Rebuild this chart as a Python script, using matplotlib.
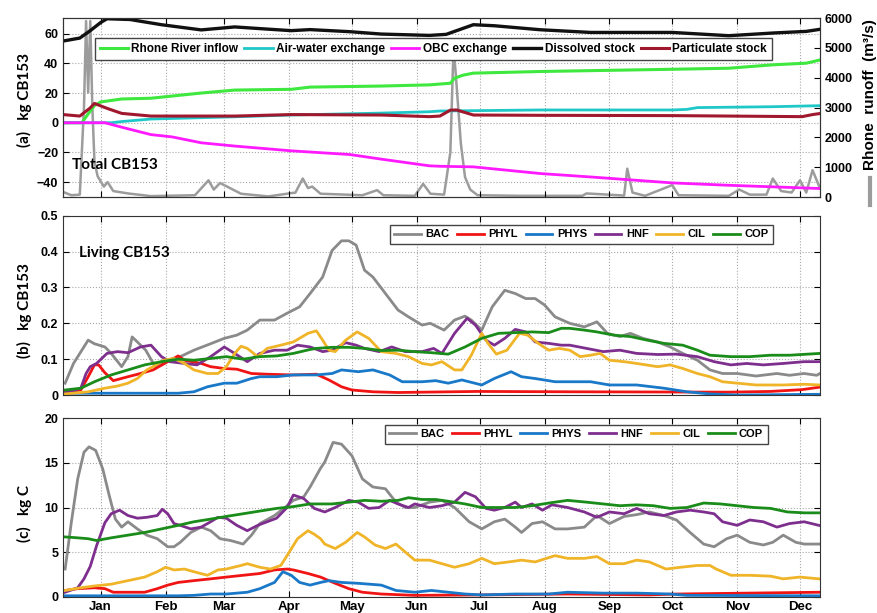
import matplotlib
matplotlib.use('Agg')
from matplotlib import pyplot as plt
from matplotlib.lines import Line2D

params = {
    'font': {'family': 'Liberation Sans', 'size': 9, 'weight': 'bold'},
    'axes': {'linewidth': 0.8, 'edgecolor': '#333333'},
    'xtick': {'direction': 'in', 'major.size': 4, 'top': True},
    'ytick': {'direction': 'in', 'major.size': 4, 'right': True},
    'grid': {'linestyle': ':', 'color': '#a8a8a8', 'linewidth': 0.8},
    'legend': {'fancybox': False, 'edgecolor': '#444444', 'framealpha': 1.0},
    'lines': {'linewidth': 1.8, 'solid_joinstyle': 'round'},
}
for group, options in params.items():
    plt.rc(group, **options)

months = ['Jan', 'Feb', 'Mar', 'Apr', 'May', 'Jun',
          'Jul', 'Aug', 'Sep', 'Oct', 'Nov', 'Dec']
month_day = [0, 31, 59, 90, 120, 151, 181, 212, 243, 273, 304, 334]

# ---- (a) total CB153 budget, kg (days counted from 1 Jan)
rhone_day = [-18, -9, -6, -3, 0, 10, 24, 48, 64, 91, 100, 134, 157, 167, 169,
             173, 178, 210, 273, 300, 321, 337, 344]
rhone = [0, 0, 6, 11.5, 14, 16, 16.5, 20, 22, 22.5, 24, 24.7, 25.5, 26.6, 30,
         32, 33.4, 34.5, 36, 36.7, 39, 40.1, 42.4]

airwater_day = [-18, 5, 10, 24, 64, 91, 134, 157, 162, 210, 273, 280, 285,
                321, 344]
airwater = [0, 0, 0.8, 2.5, 4, 5.2, 6.5, 7.4, 7.9, 8.6, 8.6, 9.0, 10.2,
            10.8, 11.5]

obc_day = [-18, 2, 10, 24, 34, 48, 64, 91, 119, 134, 157, 162, 178, 210, 234,
           273, 300, 344]
obc = [0, 0, -3, -8, -9.5, -13.5, -15.7, -18.9, -21.4, -24.5, -29, -29.3,
       -29.7, -34.2, -36.5, -40.5, -42.1, -44.3]

dissolved_day = [-18, -10, -5, 0, 3, 14, 29, 48, 64, 80, 91, 100, 119, 134,
                 157, 165, 170, 178, 188, 210, 234, 273, 300, 321, 337, 344]
dissolved = [55, 57, 62, 67.5, 70, 69.5, 66, 62.5, 64.5, 63, 62, 62.7, 61.3,
             59.7, 58.8, 59.5, 62, 66, 65.3, 62.6, 60.8, 60.8, 58.6, 60.4,
             61.5, 63]

particulate_day = [-18, -10, -5, -3, 3, 10, 24, 64, 91, 134, 157, 162, 167,
                   170, 178, 210, 273, 300, 335, 340, 344]
particulate = [5.5, 4.5, 10, 13, 9.7, 6.3, 4.5, 4.5, 5.5, 5.2, 4.1, 4.5, 8.5,
               8.6, 5.2, 5, 4.8, 4.5, 4.1, 5.5, 6.3]

# Rhone runoff, m3/s (right axis)
runoff_day = [-18, -14, -10, -8, -7, -6, -5, -4, -3, -1.5, 1.5, 3.3, 6, 13,
              24, 45, 51.5, 54, 57, 67, 80, 93, 96.5, 99, 101, 105, 125, 132,
              135, 150, 154, 157.5, 164, 167, 168.5, 169.5, 172, 174, 176.5,
              180, 200, 230, 232, 250, 251.5, 254, 260, 273, 276, 300, 305,
              310, 318, 321, 325, 330, 334, 337, 340, 343.5]
runoff = [170, 60, 80, 3000, 5900, 3500, 5900, 3000, 1200, 700, 350, 500, 200,
          120, 30, 60, 560, 250, 470, 110, 20, 150, 620, 300, 350, 110, 60,
          230, 60, 40, 440, 110, 80, 1500, 5000, 4200, 1800, 670, 250, 60,
          40, 40, 120, 50, 950, 150, 40, 400, 60, 40, 250, 80, 80, 620, 200,
          150, 560, 150, 900, 300]

# ---- (b) living CB153, kg
bac_b_day = [-17, -13, -6, -3, 2, 5, 10, 13, 15, 17.5, 21.5, 26, 32, 38, 44.5,
             52.5, 59, 65, 70, 76, 83, 89, 95, 100, 106, 110.5, 115, 118.5,
             122, 126, 130, 136, 142, 147, 153.5, 157.4, 164, 169, 174, 177,
             182, 187, 193, 198, 203, 207.5, 212, 217, 224, 231, 237, 242,
             248, 253, 259, 266, 272, 278, 285, 291, 297, 304, 313, 323, 329,
             336, 342, 343.5]
bac_b = [0.033, 0.088, 0.153, 0.143, 0.134, 0.116, 0.079, 0.107, 0.162, 0.148,
         0.125, 0.079, 0.097, 0.107, 0.125, 0.143, 0.158, 0.167, 0.181, 0.209,
         0.209, 0.228, 0.246, 0.283, 0.329, 0.403, 0.430, 0.430, 0.418, 0.348,
         0.329, 0.283, 0.237, 0.218, 0.195, 0.200, 0.181, 0.209, 0.220, 0.209,
         0.181, 0.246, 0.292, 0.283, 0.269, 0.269, 0.251, 0.218, 0.200, 0.190,
         0.204, 0.172, 0.163, 0.172, 0.158, 0.148, 0.134, 0.116, 0.097, 0.070,
         0.060, 0.060, 0.053, 0.060, 0.055, 0.060, 0.055, 0.060]

phyl_b_day = [-17, -9.5, -6, -3, -1, 2, 6, 13, 19, 25, 32, 37, 40, 48, 52.5,
              59, 65, 72, 79.5, 92, 103, 109, 115, 120, 130, 142, 180, 224,
              300, 320, 335, 343.5]
phyl_b = [0.009, 0.014, 0.051, 0.084, 0.084, 0.062, 0.040, 0.051, 0.060,
          0.070, 0.093, 0.109, 0.097, 0.088, 0.079, 0.074, 0.072, 0.060,
          0.058, 0.056, 0.058, 0.042, 0.023, 0.014, 0.009, 0.007, 0.010,
          0.009, 0.008, 0.010, 0.015, 0.022]

phys_b_day = [-17, 37, 44.5, 51, 59, 65, 72, 76, 84, 92, 103, 110.5, 115, 123,
              130, 138, 144, 153.5, 160, 166, 172.5, 182, 188, 196, 201,
              207.5, 217, 224, 234, 243, 256, 269, 280, 291, 304, 343.5]
phys_b = [0.005, 0.005, 0.009, 0.023, 0.033, 0.033, 0.046, 0.051, 0.051,
          0.056, 0.056, 0.060, 0.070, 0.065, 0.070, 0.056, 0.037, 0.037,
          0.040, 0.033, 0.042, 0.028, 0.046, 0.065, 0.051, 0.046, 0.037,
          0.037, 0.037, 0.028, 0.028, 0.019, 0.009, 0.003, 0.0, 0.002]

hnf_b_day = [-17, -9.5, -7, -5, -2, 3, 8, 13, 19, 24, 29, 33, 40, 46, 52.5,
             59, 64, 70, 76, 83, 89, 94, 100, 106, 110.5, 117, 122, 126, 133,
             139, 145.5, 153.5, 159, 163, 169, 175, 179, 184, 188, 193, 198,
             203, 207.5, 214, 220, 224, 232, 240, 248, 256, 266, 275, 285,
             293, 301, 308.5, 316.5, 326, 336, 343.5]
hnf_b = [0.006, 0.019, 0.060, 0.079, 0.088, 0.116, 0.121, 0.118, 0.134, 0.139,
         0.107, 0.093, 0.088, 0.084, 0.107, 0.134, 0.116, 0.093, 0.116, 0.125,
         0.125, 0.139, 0.134, 0.121, 0.125, 0.146, 0.139, 0.130, 0.121, 0.134,
         0.121, 0.121, 0.130, 0.116, 0.172, 0.214, 0.195, 0.153, 0.139, 0.158,
         0.183, 0.176, 0.148, 0.144, 0.139, 0.139, 0.130, 0.121, 0.125, 0.116,
         0.113, 0.114, 0.107, 0.093, 0.084, 0.088, 0.084, 0.088, 0.093, 0.093]

cil_b_day = [-17, -6, 2, 8, 13, 17.5, 22, 25, 30, 35, 40, 44.5, 51, 56, 60, 64,
             67, 70, 75, 79.5, 86, 92, 99, 103, 106, 109, 112, 117, 122.5, 128,
             134, 141, 147, 153.5, 158, 163, 169, 172.5, 177, 182, 185, 189,
             194, 200, 204, 209, 214, 219, 224, 229, 234, 238.5, 243, 250,
             256, 266, 272, 278, 285, 291, 297, 304, 313, 326, 336, 343.5]
cil_b = [0.003, 0.009, 0.019, 0.025, 0.033, 0.046, 0.070, 0.079, 0.097, 0.102,
         0.088, 0.070, 0.060, 0.060, 0.079, 0.116, 0.136, 0.130, 0.107, 0.130,
         0.139, 0.148, 0.172, 0.179, 0.153, 0.125, 0.121, 0.153, 0.176, 0.158,
         0.121, 0.116, 0.107, 0.088, 0.084, 0.093, 0.070, 0.070, 0.111, 0.172,
         0.144, 0.114, 0.125, 0.172, 0.167, 0.144, 0.125, 0.130, 0.125, 0.107,
         0.111, 0.116, 0.097, 0.093, 0.088, 0.079, 0.084, 0.074, 0.060, 0.051,
         0.037, 0.033, 0.028, 0.028, 0.030, 0.028]

cop_b_day = [-17, -9.5, -3, 5, 13, 21, 29, 37, 44.5, 52.5, 60, 68, 76, 84, 92,
             100, 103, 110.5, 118.5, 126, 134, 142, 150, 158, 166, 174, 182,
             190, 198, 206, 214, 220, 224, 231, 237, 245, 253, 261, 269, 278,
             285, 291, 301, 310, 320, 329, 343.5]
cop_b = [0.014, 0.019, 0.037, 0.056, 0.070, 0.084, 0.093, 0.100, 0.097, 0.102,
         0.107, 0.100, 0.107, 0.109, 0.116, 0.127, 0.130, 0.133, 0.133, 0.130,
         0.124, 0.125, 0.121, 0.118, 0.114, 0.134, 0.158, 0.172, 0.174, 0.176,
         0.174, 0.186, 0.186, 0.181, 0.176, 0.167, 0.163, 0.153, 0.144, 0.139,
         0.125, 0.111, 0.107, 0.107, 0.111, 0.111, 0.116]

# ---- (c) biomass, kg C
bac_c_day = [-17, -14, -11, -8, -5.6, -2.4, 1, 4, 7, 10, 13, 17.5, 22, 27, 32,
             35, 38, 43, 48, 52.5, 57, 62, 68, 72, 76, 83, 87.5, 92, 97, 100,
             105, 107, 111, 115, 120, 125, 130, 136, 141, 145.5, 150, 157,
             163, 169, 176, 182, 188, 193, 198, 201, 206, 211, 217, 223, 231,
             237, 243, 250, 256, 262, 269, 275, 281.5, 288, 293, 299, 304,
             310, 316.5, 321, 326, 332, 336, 343]
bac_c = [3.1, 8.4, 13.2, 16.2, 16.8, 16.4, 14.3, 11.4, 8.7, 7.8, 8.4, 7.6, 6.9,
         6.5, 5.6, 5.6, 6.1, 7.2, 7.8, 7.4, 6.5, 6.3, 5.9, 6.9, 8.2, 9.1, 9.9,
         10.8, 11.2, 12.3, 14.4, 15.1, 17.3, 17.1, 15.8, 13.2, 12.3, 12.1,
         10.6, 10.0, 10.0, 10.6, 10.8, 10.0, 8.4, 7.6, 8.4, 8.7, 7.8, 7.2, 8.2,
         8.4, 7.6, 7.6, 7.8, 9.1, 8.2, 9.0, 9.2, 9.5, 9.1, 8.6, 7.2, 5.9, 5.6,
         6.5, 6.9, 6.1, 5.8, 6.1, 6.9, 6.1, 5.9, 5.9]

phyl_c_day = [-17, -11, -3, 2, 6, 13, 21, 27, 32, 37, 44.5, 52.5, 60, 68, 76,
              83, 89, 92, 99, 105, 109, 112, 118.5, 125, 134, 150, 182, 223,
              262, 275, 343.5]
phyl_c = [0.7, 0.9, 1.0, 0.9, 0.5, 0.5, 0.5, 0.9, 1.3, 1.6, 1.8, 2.0, 2.2,
          2.4, 2.6, 3.0, 3.1, 3.0, 2.6, 2.2, 1.8, 1.5, 0.9, 0.5, 0.3, 0.15,
          0.2, 0.3, 0.2, 0.3, 0.5]

phys_c_day = [-17, 37, 44.5, 52.5, 60, 70, 76, 83, 87, 91, 95, 100, 105, 109,
              115, 123, 134, 141, 150, 158, 166, 174, 182, 198, 214, 223, 240,
              256, 272, 280, 343]
phys_c = [0.1, 0.1, 0.15, 0.3, 0.3, 0.5, 0.9, 1.6, 2.8, 2.4, 1.6, 1.3, 1.6,
          1.8, 1.6, 1.5, 1.3, 0.7, 0.5, 0.7, 0.5, 0.3, 0.2, 0.3, 0.3, 0.5,
          0.4, 0.4, 0.3, 0.15, 0.1]

hnf_c_day = [-17, -11, -8, -5, -2, 2, 5, 9, 13, 17.5, 22, 27, 29.4, 32, 35, 38,
             43, 48, 52.5, 56, 60, 65, 70, 75, 79.5, 84, 89, 92, 97, 102, 107,
             112, 118.5, 123, 128, 133, 138, 142, 147, 150, 157, 163, 169, 174,
             179, 184, 188, 193, 198, 201, 206, 211, 215.5, 223, 231, 237, 243,
             250, 256, 262, 269, 275, 281.5, 288, 293, 297, 304, 310, 316.5,
             323, 329, 336, 343]
hnf_c = [0.5, 1.0, 2.0, 3.4, 5.7, 8.3, 9.3, 9.7, 9.1, 8.8, 8.9, 9.1, 9.8, 9.3,
         8.2, 8.0, 7.6, 7.8, 8.4, 8.9, 8.8, 8.0, 7.4, 8.0, 8.4, 8.8, 10.0,
         11.4, 11.0, 9.9, 9.5, 10.0, 10.8, 10.6, 9.9, 10.0, 10.8, 10.4, 10.0,
         10.4, 10.0, 10.2, 10.6, 11.7, 11.2, 9.9, 9.7, 10.0, 10.6, 10.0, 10.4,
         9.7, 10.3, 10.0, 9.5, 8.9, 9.5, 9.3, 9.9, 9.3, 9.1, 9.5, 9.7, 9.5,
         9.3, 8.4, 8.0, 8.6, 8.4, 7.8, 8.2, 8.4, 8.0]

cil_c_day = [-17, -9.5, -3, 5, 13, 21, 27, 31, 35, 40, 44.5, 51, 56, 60, 67,
             70, 76, 81, 86, 89, 94, 99, 102, 105, 107, 112, 117, 122.5, 126,
             131, 136, 141, 145.5, 150, 157, 163, 169, 176, 182, 188, 195, 201,
             207.5, 217, 223, 231, 237, 243, 250, 256, 262, 270, 277, 285, 291,
             294, 301, 310, 320, 326, 334, 343]
cil_c = [0.7, 1.0, 1.2, 1.4, 1.8, 2.2, 2.8, 3.3, 3.0, 3.1, 2.8, 2.4, 3.0, 3.1,
         3.5, 3.7, 3.3, 3.1, 3.5, 4.6, 6.5, 7.4, 7.0, 6.5, 5.9, 5.4, 6.1, 7.2,
         6.7, 5.8, 5.4, 5.9, 5.0, 4.1, 4.1, 3.7, 3.3, 3.7, 4.3, 3.7, 3.9, 4.1,
         3.9, 4.6, 4.3, 4.3, 4.5, 3.7, 3.7, 4.1, 3.9, 3.1, 3.3, 3.5, 3.5, 3.1,
         2.4, 2.4, 2.3, 2.0, 2.2, 2.0]

cop_c_day = [-17, -11, -6, -2, 5, 13, 21, 29, 37, 44.5, 52.5, 60, 68, 76, 84,
             92, 100, 110.5, 118.5, 126, 134, 142, 147, 153.5, 160, 166, 174,
             182, 190, 198, 206, 214, 223, 232, 240, 248, 256, 264, 272, 280,
             288, 296, 304, 312, 320, 328, 336, 343]
cop_c = [6.7, 6.6, 6.5, 6.3, 6.6, 6.9, 7.2, 7.6, 8.0, 8.4, 8.7, 9.0, 9.3, 9.6,
         9.9, 10.1, 10.4, 10.4, 10.6, 10.8, 10.7, 10.8, 11.1, 10.9, 10.9, 10.7,
         10.4, 10.0, 10.0, 10.0, 10.2, 10.5, 10.8, 10.6, 10.4, 10.2, 10.3,
         10.2, 9.9, 10.0, 10.5, 10.4, 10.2, 10.0, 9.9, 9.5, 9.4, 9.4]

# cores dos grupos planctonicos (b) e (c)
colors = {
    'BAC': '#8a8a8a',
    'PHYL': '#f01414',
    'PHYS': '#1a78c8',
    'HNF': '#7e2f8e',
    'CIL': '#f0b428',
    'COP': '#1a8c1a',
}
label_font = {'family': 'Lato', 'weight': 'bold', 'size': 11}


def month_axis(ax, labels=False):
    ax.set_xlim(-18, 343.5)
    ax.set_xticks(month_day)
    ax.set_xticklabels(months if labels else [])
    ax.tick_params(axis='x', labelsize=9.5, pad=3)
    ax.grid(True)


fig = plt.figure(figsize=(8.78, 6.13), dpi=100)
ax_a = fig.add_axes([0.0718, 0.6786, 0.862, 0.292])
ax_b = fig.add_axes([0.0718, 0.3556, 0.862, 0.2925])
ax_c = fig.add_axes([0.0718, 0.0266, 0.862, 0.291])

# %% (a)
ax_r = ax_a.twinx()
ax_r.plot(runoff_day, runoff, color='#9c9c9c', lw=1.8)
ax_r.set_ylim(0, 6000)
ax_r.set_yticks(range(0, 6001, 1000))
ax_r.tick_params(axis='y', direction='in', length=4)
ax_a.set_zorder(ax_r.get_zorder() + 1)
ax_a.patch.set_visible(False)

ax_a.plot(rhone_day, rhone, color='#3ee83e', lw=2.2, label='Rhone River inflow')
ax_a.plot(airwater_day, airwater, color='#1fc8c8', lw=2.0,
          label='Air-water exchange')
ax_a.plot(obc_day, obc, color='#ff19ff', lw=2.0, label='OBC exchange')
ax_a.plot(dissolved_day, dissolved, color='#111111', lw=2.4,
          label='Dissolved stock')
ax_a.plot(particulate_day, particulate, color='#a0182e', lw=2.2,
          label='Particulate stock')
ax_a.set_ylim(-50, 70.5)
ax_a.set_yticks([-40, -20, 0, 20, 40, 60])
ax_a.tick_params(axis='y', right=False)
month_axis(ax_a)
ax_a.legend(loc='upper left', bbox_to_anchor=(0.042, 0.888), ncol=5,
            prop={'family': 'Liberation Sans', 'weight': 'bold', 'size': 8.5},
            handlelength=2.4, handletextpad=0.3, columnspacing=0.5,
            borderpad=0.4, borderaxespad=0)
ax_a.text(0.012, 0.18, 'Total CB153', transform=ax_a.transAxes,
          va='center', **label_font)

# %% (b) e (c)
panels = [
    (ax_b, {'BAC': (bac_b_day, bac_b), 'PHYL': (phyl_b_day, phyl_b),
            'PHYS': (phys_b_day, phys_b), 'HNF': (hnf_b_day, hnf_b),
            'CIL': (cil_b_day, cil_b), 'COP': (cop_b_day, cop_b)},
     (0.432, 0.948)),
    (ax_c, {'BAC': (bac_c_day, bac_c), 'PHYL': (phyl_c_day, phyl_c),
            'PHYS': (phys_c_day, phys_c), 'HNF': (hnf_c_day, hnf_c),
            'CIL': (cil_c_day, cil_c), 'COP': (cop_c_day, cop_c)},
     (0.425, 0.964)),
]
for ax, series, anchor in panels:
    for name, (day, val) in series.items():
        ax.plot(day, val, color=colors[name], lw=2.0, label=name)
    ax.legend(loc='upper left', bbox_to_anchor=anchor, ncol=6,
              prop={'family': 'Liberation Sans', 'size': 8},
              handlelength=2.4, handletextpad=0.4, columnspacing=0.7,
              borderpad=0.4, borderaxespad=0)

ax_b.set_ylim(0, 0.5)
ax_b.set_yticks([0, 0.1, 0.2, 0.3, 0.4, 0.5])
ax_b.set_yticklabels(['0', '0.1', '0.2', '0.3', '0.4', '0.5'])
month_axis(ax_b)
ax_b.text(0.021, 0.792, 'Living CB153', transform=ax_b.transAxes,
          va='center', **label_font)

ax_c.set_ylim(0, 20)
ax_c.set_yticks([0, 5, 10, 15, 20])
month_axis(ax_c, labels=True)

# rotulos dos eixos y
fig.text(0.028, 0.837, '(a)   kg CB153', rotation=90, ha='center',
         va='center', **label_font)
fig.text(0.028, 0.494, '(b)   kg CB153', rotation=90, ha='center',
         va='center', **label_font)
fig.text(0.028, 0.163, '(c)   kg C', rotation=90, ha='center',
         va='center', **label_font)
fig.text(0.991, 0.845, 'Rhone  runoff  (m³/s)', rotation=90, ha='center',
         va='center', size=11)
fig.add_artist(Line2D([0.991, 0.991], [0.665, 0.71], transform=fig.transFigure,
                      color='#9c9c9c', lw=3))

fig.savefig('out.png', dpi=100)
